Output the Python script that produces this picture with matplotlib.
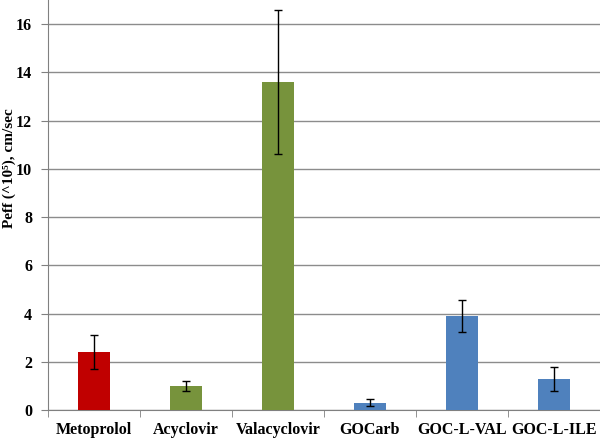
import matplotlib
matplotlib.use("Agg")
import matplotlib.pyplot as plt
import numpy as np

categories = ["Metoprolol", "Acyclovir", "Valacyclovir", "GOCarb", "GOC-L-VAL", "GOC-L-ILE"]
values = [2.4, 1.0, 13.6, 0.3, 3.9, 1.3]
errors = [0.7, 0.2, 3.0, 0.15, 0.65, 0.5]
colors = ["#C00000", "#77933C", "#77933C", "#4F81BD", "#4F81BD", "#4F81BD"]
yticks = [0, 2, 4, 6, 8, 10, 12, 14, 16]

plt.rcParams['font.family'] = ['Liberation Serif', 'DejaVu Serif']
plt.rcParams['font.weight'] = 'bold'

fig = plt.figure(figsize=(6, 4.38), dpi=100)
ax = fig.add_axes([0.08, 0.064, 0.92, 0.936])

x = np.arange(len(categories))
ax.bar(x, values, width=0.34, color=colors, zorder=3)
ax.errorbar(x, values, yerr=errors, fmt='none', ecolor='black', elinewidth=1,
            capsize=3, capthick=1, zorder=4)

ax.set_xlim(-0.5, len(categories) - 0.5)
ax.set_ylim(0, 17)
ax.set_yticks(yticks)
ax.set_yticklabels([str(t) for t in yticks], fontsize=11.5, fontweight='bold')
ax.set_xticks(x)
ax.set_xticklabels(categories, fontsize=11.5, fontweight='bold')
ax.set_xticks(np.arange(-0.5, len(categories), 1), minor=True)
ax.tick_params(axis='x', which='major', length=0, pad=9)
ax.tick_params(axis='x', which='minor', length=5, color='#808080')
ax.tick_params(axis='y', length=5, color='#808080', pad=6.5)

ax.grid(axis='y', color='#8c8c8c', linewidth=1, zorder=0)
for s in ['top', 'right']:
    ax.spines[s].set_visible(False)
for s in ['left', 'bottom']:
    ax.spines[s].set_color('#808080')

ax.set_ylabel("Peff (^10\u2075), cm/sec", fontsize=11, fontweight='bold')
ax.yaxis.set_label_coords(-0.058, 0.59)

fig.savefig("out.png", dpi=100)
